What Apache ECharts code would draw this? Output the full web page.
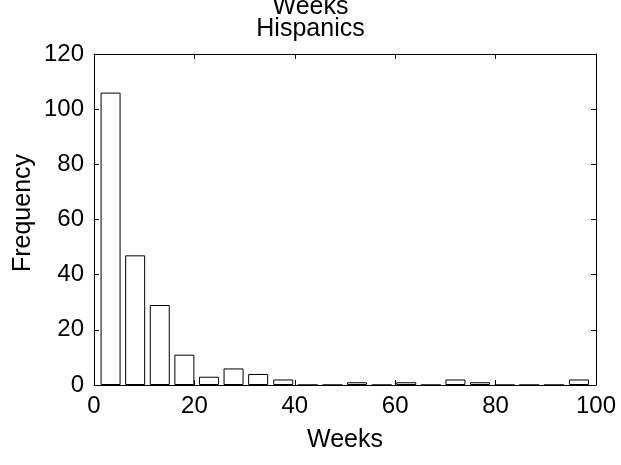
<!DOCTYPE html>
<html>
<head>
<meta charset="utf-8">
<script src="https://cdn.jsdelivr.net/npm/echarts@6/dist/echarts.min.js"></script>
<style>
  html, body { margin: 0; padding: 0; background: #fff; }
  #chart { width: 621px; height: 465px; }
</style>
</head>
<body>
<div id="chart"></div>
<script>
// histogram bins (centers in weeks) and counts
const binCenters = [3.3, 8.2, 13.1, 18.0, 22.9, 27.8, 32.7, 37.7, 42.6, 47.5,
                    52.4, 57.3, 62.2, 67.1, 72.0, 76.9, 81.8, 86.7, 91.6, 96.6];
const counts = [106, 47, 29, 11, 3, 6, 4, 2, 0, 0, 1, 0, 1, 0, 2, 1, 0, 0, 0, 2];
const xTicks = [0, 20, 40, 60, 80, 100];
const yTicks = [0, 20, 40, 60, 80, 100, 120];

const FONT = 'Liberation Sans, Arial, sans-serif';

const chart = echarts.init(document.getElementById('chart'));

const tickStyle = { show: true, inside: true, length: 5, lineStyle: { color: '#000', width: 1 } };
// onZero off so the top/right axes stay on the box edges
const axisLine = { show: true, onZero: false, lineStyle: { color: '#000', width: 1 } };

const option = {
  animation: false,
  backgroundColor: '#fff',
  title: {
    text: 'Weeks\nHispanics',
    left: 'center',
    top: -9,
    textStyle: { fontFamily: FONT, fontSize: 25, fontWeight: 'normal', color: '#000', lineHeight: 22 }
  },
  grid: { left: 94, right: 25, top: 54, bottom: 80 },
  graphic: [
    {
      type: 'text',
      x: 23, y: 213,
      rotation: Math.PI / 2,
      style: {
        text: 'Frequency',
        fontFamily: FONT, fontSize: 25, fill: '#000',
        align: 'center', verticalAlign: 'middle'
      }
    }
  ],
  xAxis: [
    {
      type: 'value',
      min: xTicks[0], max: xTicks[xTicks.length - 1], interval: 20,
      name: 'Weeks', nameLocation: 'middle', nameGap: 43,
      nameTextStyle: { fontFamily: FONT, fontSize: 25, color: '#000' },
      axisLine: axisLine,
      axisTick: tickStyle,
      axisLabel: { fontFamily: FONT, fontSize: 24, color: '#000', margin: 9 },
      splitLine: { show: false }
    },
    {
      type: 'value', position: 'top',
      min: xTicks[0], max: xTicks[xTicks.length - 1], interval: 20,
      axisLine: axisLine,
      axisTick: tickStyle,
      axisLabel: { show: false },
      splitLine: { show: false }
    }
  ],
  yAxis: [
    {
      type: 'value',
      min: yTicks[0], max: yTicks[yTicks.length - 1], interval: 20,
      axisLine: axisLine,
      axisTick: tickStyle,
      axisLabel: { fontFamily: FONT, fontSize: 24, color: '#000', margin: 10 },
      splitLine: { show: false }
    },
    {
      type: 'value', position: 'right',
      min: yTicks[0], max: yTicks[yTicks.length - 1], interval: 20,
      axisLine: axisLine,
      axisTick: tickStyle,
      axisLabel: { show: false },
      splitLine: { show: false }
    }
  ],
  series: [
    {
      type: 'bar',
      xAxisIndex: 0,
      yAxisIndex: 0,
      barWidth: 20,
      data: binCenters.map((c, i) => [c, counts[i]]),
      itemStyle: { color: '#fff', borderColor: '#000', borderWidth: 1 }
    }
  ]
};

chart.setOption(option);
</script>
</body>
</html>
